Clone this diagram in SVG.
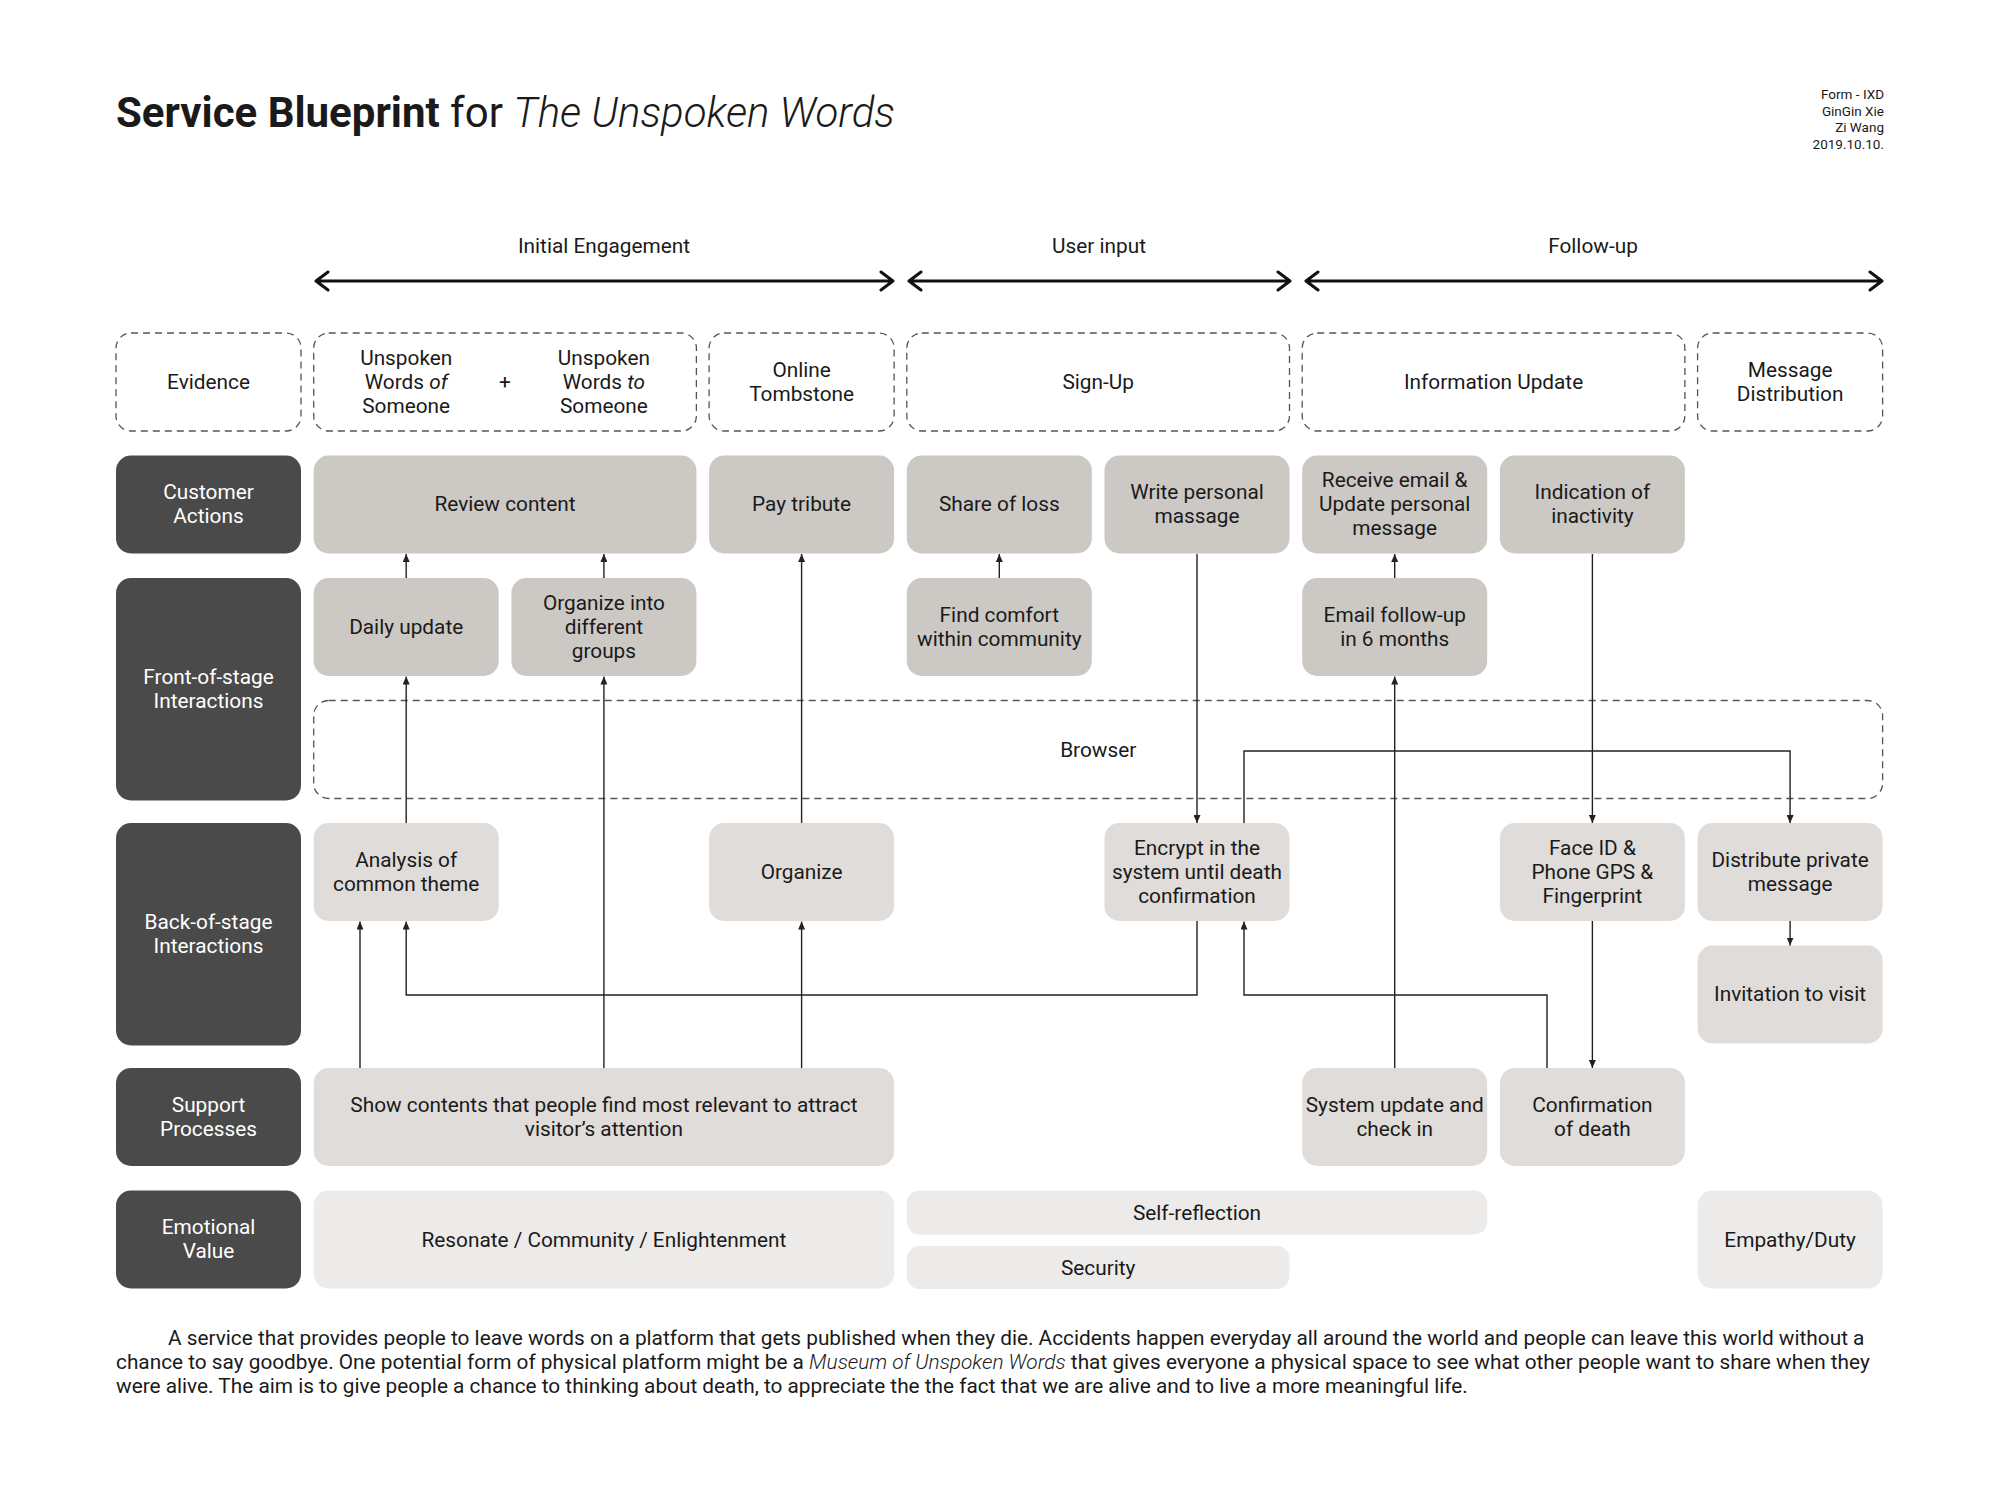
<svg xmlns="http://www.w3.org/2000/svg" width="2000" height="1500" viewBox="0 0 2000 1500">
<style>
text{font-family:Roboto,"Liberation Sans",sans-serif;fill:#1a1a1a;}
.t{font-size:20.8px;text-anchor:middle;}
.lt{font-size:20.8px;text-anchor:middle;fill:#ffffff;}
.cr{font-size:13.5px;text-anchor:end;}
.p{font-size:20.8px;}
.lab{fill:#4a4a4a;}
.ca{fill:#ccc8c4;}
.bk{fill:#dfdcd9;}
.em{fill:#ecebea;}
.ev{fill:none;stroke:#555;stroke-width:1.3;stroke-dasharray:7 5;}
.c{fill:none;stroke:#222;stroke-width:1.4;}
.ph{fill:none;stroke:#111;stroke-width:3;stroke-linecap:round;stroke-linejoin:round;}
</style>
<defs>
<marker id="ah" markerWidth="8" markerHeight="7" refX="8" refY="3.5" orient="auto" markerUnits="userSpaceOnUse">
<path d="M0,0 L8,3.5 L0,7 z" fill="#222"/>
</marker>
</defs>
<rect x="0" y="0" width="2000" height="1500" fill="#ffffff"/>

<g id="title">
<text x="116" y="127" style="font-size:42px"><tspan font-weight="700">Service Blueprint</tspan><tspan> for </tspan><tspan font-style="italic" font-weight="300">The Unspoken Words</tspan></text>
</g>
<g id="credits">
<text class="cr" x="1884" y="99">Form - IXD</text>
<text class="cr" x="1884" y="115.5">GinGin Xie</text>
<text class="cr" x="1884" y="132">Zi Wang</text>
<text class="cr" x="1884" y="148.5">2019.10.10.</text>
</g>

<g id="phases">
<text class="t" x="604" y="253">Initial Engagement</text>
<text class="t" x="1099" y="253">User input</text>
<text class="t" x="1593" y="253">Follow-up</text>
<path class="ph" d="M316,281 H893 M328,272 L316,281 L328,290 M881,272 L893,281 L881,290"/>
<path class="ph" d="M909,281 H1290 M921,272 L909,281 L921,290 M1278,272 L1290,281 L1278,290"/>
<path class="ph" d="M1306,281 H1882 M1318,272 L1306,281 L1318,290 M1870,272 L1882,281 L1870,290"/>
</g>

<!-- Evidence row -->
<g id="evidence">
<rect class="ev" x="116" y="333" width="185" height="98" rx="15"/>
<text class="t" x="208.5" y="389">Evidence</text>
</g>
<g id="ev-unspoken">
<rect class="ev" x="313.7" y="333" width="382.7" height="98" rx="15"/>
<text class="t" x="406.2" y="365">Unspoken</text>
<text class="t" x="406.2" y="389">Words <tspan font-style="italic">of</tspan></text>
<text class="t" x="406.2" y="413">Someone</text>
<text class="t" x="505" y="389">+</text>
<text class="t" x="603.9" y="365">Unspoken</text>
<text class="t" x="603.9" y="389">Words <tspan font-style="italic">to</tspan></text>
<text class="t" x="603.9" y="413">Someone</text>
</g>
<g id="ev-tombstone">
<rect class="ev" x="709.1" y="333" width="185" height="98" rx="15"/>
<text class="t" x="801.6" y="377">Online</text>
<text class="t" x="801.6" y="401">Tombstone</text>
</g>
<g id="ev-signup">
<rect class="ev" x="906.8" y="333" width="382.7" height="98" rx="15"/>
<text class="t" x="1098.2" y="389">Sign-Up</text>
</g>
<g id="ev-info">
<rect class="ev" x="1302.2" y="333" width="382.7" height="98" rx="15"/>
<text class="t" x="1493.6" y="389">Information Update</text>
</g>
<g id="ev-msg">
<rect class="ev" x="1697.6" y="333" width="185" height="98" rx="15"/>
<text class="t" x="1790.1" y="377">Message</text>
<text class="t" x="1790.1" y="401">Distribution</text>
</g>

<!-- Lane labels -->
<g id="lane-customer">
<rect class="lab" x="116" y="455.5" width="185" height="98" rx="15"/>
<text class="lt" x="208.5" y="499">Customer</text>
<text class="lt" x="208.5" y="523">Actions</text>
</g>
<g id="lane-front">
<rect class="lab" x="116" y="578" width="185" height="222.5" rx="15"/>
<text class="lt" x="208.5" y="684">Front-of-stage</text>
<text class="lt" x="208.5" y="708">Interactions</text>
</g>
<g id="lane-back">
<rect class="lab" x="116" y="823" width="185" height="222.5" rx="15"/>
<text class="lt" x="208.5" y="929">Back-of-stage</text>
<text class="lt" x="208.5" y="953">Interactions</text>
</g>
<g id="lane-support">
<rect class="lab" x="116" y="1068" width="185" height="98" rx="15"/>
<text class="lt" x="208.5" y="1112">Support</text>
<text class="lt" x="208.5" y="1136">Processes</text>
</g>
<g id="lane-emotional">
<rect class="lab" x="116" y="1190.5" width="185" height="98" rx="15"/>
<text class="lt" x="208.5" y="1234">Emotional</text>
<text class="lt" x="208.5" y="1258">Value</text>
</g>

<!-- Customer actions -->
<g id="review-content">
<rect class="ca" x="313.7" y="455.5" width="382.7" height="98" rx="15"/>
<text class="t" x="505" y="511">Review content</text>
</g>
<g id="pay-tribute">
<rect class="ca" x="709.1" y="455.5" width="185" height="98" rx="15"/>
<text class="t" x="801.6" y="511">Pay tribute</text>
</g>
<g id="share-loss">
<rect class="ca" x="906.8" y="455.5" width="185" height="98" rx="15"/>
<text class="t" x="999.3" y="511">Share of loss</text>
</g>
<g id="write-message">
<rect class="ca" x="1104.5" y="455.5" width="185" height="98" rx="15"/>
<text class="t" x="1197" y="499">Write personal</text>
<text class="t" x="1197" y="523">massage</text>
</g>
<g id="receive-email">
<rect class="ca" x="1302.2" y="455.5" width="185" height="98" rx="15"/>
<text class="t" x="1394.7" y="487">Receive email &amp;</text>
<text class="t" x="1394.7" y="511">Update personal</text>
<text class="t" x="1394.7" y="535">message</text>
</g>
<g id="inactivity">
<rect class="ca" x="1499.9" y="455.5" width="185" height="98" rx="15"/>
<text class="t" x="1592.4" y="499">Indication of</text>
<text class="t" x="1592.4" y="523">inactivity</text>
</g>

<!-- Front of stage -->
<g id="daily-update">
<rect class="ca" x="313.7" y="578" width="185" height="98" rx="15"/>
<text class="t" x="406.2" y="634">Daily update</text>
</g>
<g id="organize-groups">
<rect class="ca" x="511.4" y="578" width="185" height="98" rx="15"/>
<text class="t" x="603.9" y="610">Organize into</text>
<text class="t" x="603.9" y="634">different</text>
<text class="t" x="603.9" y="658">groups</text>
</g>
<g id="find-comfort">
<rect class="ca" x="906.8" y="578" width="185" height="98" rx="15"/>
<text class="t" x="999.3" y="622">Find comfort</text>
<text class="t" x="999.3" y="646">within community</text>
</g>
<g id="email-followup">
<rect class="ca" x="1302.2" y="578" width="185" height="98" rx="15"/>
<text class="t" x="1394.7" y="622">Email follow-up</text>
<text class="t" x="1394.7" y="646">in 6 months</text>
</g>
<g id="browser">
<rect class="ev" x="313.7" y="700.5" width="1568.9" height="98" rx="15"/>
<text class="t" x="1098.2" y="757">Browser</text>
</g>

<!-- Back of stage -->
<g id="analysis">
<rect class="bk" x="313.7" y="823" width="185" height="98" rx="15"/>
<text class="t" x="406.2" y="867">Analysis of</text>
<text class="t" x="406.2" y="891">common theme</text>
</g>
<g id="organize">
<rect class="bk" x="709.1" y="823" width="185" height="98" rx="15"/>
<text class="t" x="801.6" y="879">Organize</text>
</g>
<g id="encrypt">
<rect class="bk" x="1104.5" y="823" width="185" height="98" rx="15"/>
<text class="t" x="1197" y="855">Encrypt in the</text>
<text class="t" x="1197" y="879">system until death</text>
<text class="t" x="1197" y="903">confirmation</text>
</g>
<g id="face-id">
<rect class="bk" x="1499.9" y="823" width="185" height="98" rx="15"/>
<text class="t" x="1592.4" y="855">Face ID &amp;</text>
<text class="t" x="1592.4" y="879">Phone GPS &amp;</text>
<text class="t" x="1592.4" y="903">Fingerprint</text>
</g>
<g id="distribute">
<rect class="bk" x="1697.6" y="823" width="185" height="98" rx="15"/>
<text class="t" x="1790.1" y="867">Distribute private</text>
<text class="t" x="1790.1" y="891">message</text>
</g>
<g id="invitation">
<rect class="bk" x="1697.6" y="945.5" width="185" height="98" rx="15"/>
<text class="t" x="1790.1" y="1001">Invitation to visit</text>
</g>

<!-- Support -->
<g id="show-contents">
<rect class="bk" x="313.7" y="1068" width="580.4" height="98" rx="15"/>
<text class="t" x="603.9" y="1112">Show contents that people find most relevant to attract</text>
<text class="t" x="603.9" y="1136">visitor’s attention</text>
</g>
<g id="system-update">
<rect class="bk" x="1302.2" y="1068" width="185" height="98" rx="15"/>
<text class="t" x="1394.7" y="1112">System update and</text>
<text class="t" x="1394.7" y="1136">check in</text>
</g>
<g id="confirmation">
<rect class="bk" x="1499.9" y="1068" width="185" height="98" rx="15"/>
<text class="t" x="1592.4" y="1112">Confirmation</text>
<text class="t" x="1592.4" y="1136">of death</text>
</g>

<!-- Emotional -->
<g id="resonate">
<rect class="em" x="313.7" y="1190.5" width="580.4" height="98" rx="15"/>
<text class="t" x="603.9" y="1247">Resonate / Community / Enlightenment</text>
</g>
<g id="self-reflection">
<rect class="em" x="906.8" y="1190.5" width="580.4" height="44" rx="13"/>
<text class="t" x="1197" y="1220">Self-reflection</text>
</g>
<g id="security">
<rect class="em" x="906.8" y="1246" width="382.7" height="43" rx="13"/>
<text class="t" x="1098.2" y="1275">Security</text>
</g>
<g id="empathy">
<rect class="em" x="1697.6" y="1190.5" width="185" height="98" rx="15"/>
<text class="t" x="1790.1" y="1247">Empathy/Duty</text>
</g>

<g id="connectors">
<path class="c" marker-end="url(#ah)" d="M406.2,578 V554"/>
<path class="c" marker-end="url(#ah)" d="M603.9,578 V554"/>
<path class="c" marker-end="url(#ah)" d="M999.3,578 V554"/>
<path class="c" marker-end="url(#ah)" d="M1394.7,578 V554"/>
<path class="c" marker-end="url(#ah)" d="M406.2,823 V676.5"/>
<path class="c" marker-end="url(#ah)" d="M360,1068 V921.5"/>
<path class="c" marker-end="url(#ah)" d="M603.9,1068 V676.5"/>
<path class="c" marker-end="url(#ah)" d="M801.6,1068 V921.5"/>
<path class="c" marker-end="url(#ah)" d="M801.6,823 V554"/>
<path class="c" marker-end="url(#ah)" d="M1197,554 V823"/>
<path class="c" marker-end="url(#ah)" d="M1197,921 V995 H406.2 V921.5"/>
<path class="c" marker-end="url(#ah)" d="M1244,823 V751 H1790.1 V823"/>
<path class="c" marker-end="url(#ah)" d="M1547,1068 V995 H1244 V921.5"/>
<path class="c" marker-end="url(#ah)" d="M1394.7,1068 V676.5"/>
<path class="c" marker-end="url(#ah)" d="M1592.4,554 V823"/>
<path class="c" marker-end="url(#ah)" d="M1592.4,921 V1068"/>
<path class="c" marker-end="url(#ah)" d="M1790.1,921 V945.5"/>
</g>

<g id="description">
<text class="p" x="168" y="1345">A service that provides people to leave words on a platform that gets published when they die. Accidents happen everyday all around the world and people can leave this world without a</text>
<text class="p" x="116" y="1369">chance to say goodbye. One potential form of physical platform might be a <tspan font-style="italic" font-weight="300">Museum of Unspoken Words</tspan> that gives everyone a physical space to see what other people want to share when they</text>
<text class="p" x="116" y="1393">were alive. The aim is to give people a chance to thinking about death, to appreciate the the fact that we are alive and to live a more meaningful life.</text>
</g>
</svg>
